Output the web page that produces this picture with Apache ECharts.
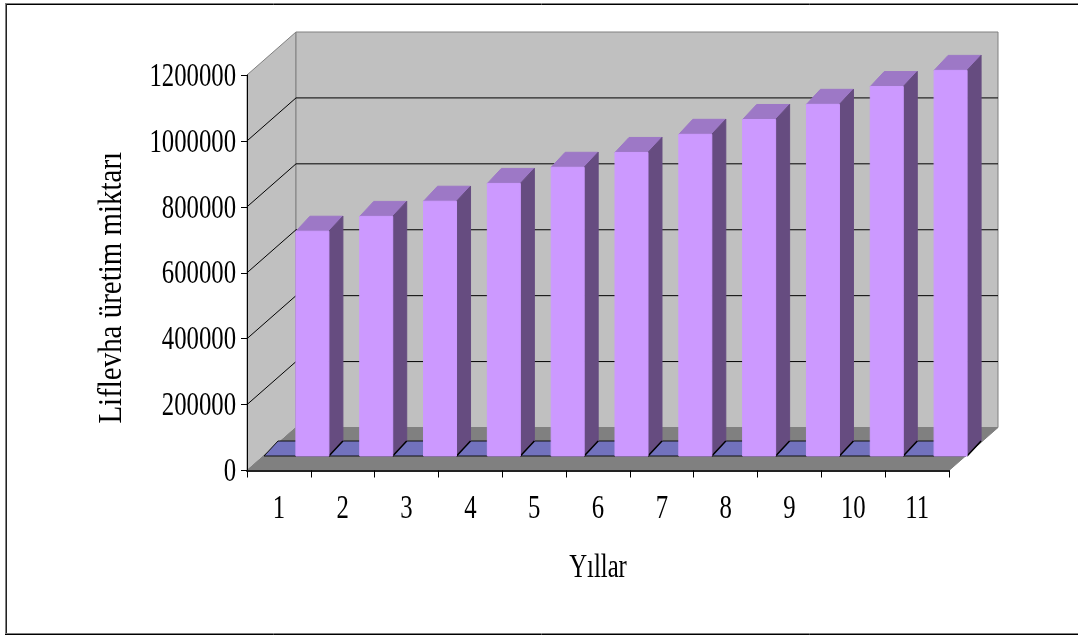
<!DOCTYPE html>
<html>
<head>
<meta charset="utf-8">
<style>html,body{margin:0;padding:0;background:#fff}#c{width:1078px;height:635px}</style>
<script src="https://cdn.jsdelivr.net/npm/echarts@6/dist/echarts.min.js"></script>
</head>
<body>
<div id="c"></div>
<script>
// Fibreboard production per year
const years = ['1','2','3','4','5','6','7','8','9','10','11'];
const production = [682000,727000,773000,827000,876000,921000,976000,1021000,1067000,1121000,1170000];
const yTicks = [0,200000,400000,600000,800000,1000000,1200000];
const gridValues = [200000,400000,600000,800000,1000000];
const yMax = 1200000;
const yStep = 200000;
const xTitle = 'Yıllar';
const yTitle = 'Liflevha üretim miktarı';

// Oblique projection used for the box look (pixels from the front plane)
const wallShift = [49, -43];
const barPlaneShift = [17, -14.5];
const barDepth = [14, -15];

const WALL = '#c0c0c0', FLOOR = '#808080', EDGE = '#808080';
const FRONT = '#cc99ff', TOP = '#9d78c6', SIDE = '#664c80', TILE = '#7272bd';
const FONT = '33px "Liberation Serif","Times New Roman",serif';

const shift = (p, d) => [p[0] + d[0], p[1] + d[1]];
const poly = (points, fill, stroke) => ({
  type: 'polygon',
  shape: { points },
  style: { fill, stroke: stroke || null, lineWidth: stroke ? 1 : 0 }
});
const seg = (a, b, stroke, w) => ({
  type: 'line',
  shape: { x1: a[0], y1: a[1], x2: b[0], y2: b[1] },
  style: { stroke, lineWidth: w || 1 }
});
// Tall, narrow serif lettering: drawn large, then squeezed along the reading direction
const label = (text, x, y, align, squeeze, rotation) => ({
  type: 'text', x, y,
  scaleX: squeeze,
  rotation: rotation || 0,
  style: { text, font: FONT, fill: '#000', align, verticalAlign: 'middle' }
});

// Corner points of the plot's front plane, taken from the axes
function frame(api) {
  const band = api.size([1, 0])[0];
  const first = api.coord([0, 0]);
  const last = api.coord([years.length - 1, 0]);
  const left = first[0] - band / 2, right = last[0] + band / 2;
  return { band, left, right, base: first[1], top: api.coord([0, yMax])[1] };
}

function renderBox(params, api) {
  const f = frame(api);
  const bl = [f.left, f.base], tl = [f.left, f.top], br = [f.right, f.base];
  const bbl = shift(bl, wallShift), btl = shift(tl, wallShift), bbr = shift(br, wallShift);
  const btr = [bbr[0], btl[1]];
  const children = [
    poly([bl, tl, btl, bbl], WALL, EDGE),
    poly([bbl, btl, btr, bbr], WALL, EDGE)
  ];
  gridValues.forEach(v => {
    const y = api.coord([0, v])[1];
    const a = [f.left, y], b = shift(a, wallShift);
    children.push(seg(a, b, '#000'), seg(b, [bbr[0], b[1]], '#000'));
  });
  children.push(poly([bl, bbl, bbr, br], FLOOR, FLOOR));
  return { type: 'group', children };
}

function renderTile(params, api) {
  const band = api.size([1, 0])[0];
  const c = api.coord([api.value(0), 0]);
  const a = shift([c[0] - band / 2, c[1]], barPlaneShift);
  const b = shift([c[0] + band / 2, c[1]], barPlaneShift);
  return poly([a, b, shift(b, barDepth), shift(a, barDepth)], TILE, '#111');
}

function renderBar(params, api) {
  const band = api.size([1, 0])[0];
  const i = api.value(0), v = api.value(1);
  const x0 = api.coord([i, 0])[0] + barPlaneShift[0];
  const x1 = x0 + band * 0.517;
  const yTop = api.coord([i, v])[1] + barPlaneShift[1];
  const yBase = api.coord([i, 0])[1] + barPlaneShift[1];
  const a = [x0, yTop], b = [x1, yTop], c = [x1, yBase], d = [x0, yBase];
  return {
    type: 'group',
    children: [
      poly([a, b, shift(b, barDepth), shift(a, barDepth)], TOP, TOP),
      poly([b, c, shift(c, barDepth), shift(b, barDepth)], SIDE, SIDE),
      seg(c, shift(c, barDepth), '#000', 1.5),
      poly([a, b, c, d], FRONT, FRONT)
    ]
  };
}

function renderText(params, api) {
  const f = frame(api);
  const children = [];
  yTicks.forEach(v => {
    children.push(label(String(v), f.left - 11, api.coord([0, v])[1] + 2, 'right', 0.75));
  });
  years.forEach((y, i) => {
    children.push(label(y, api.coord([i, 0])[0], f.base + 39, 'center', 0.75));
  });
  children.push(label(xTitle, (f.left + f.right) / 2, f.base + 98, 'center', 0.75));
  children.push(label(yTitle, f.left - 135, (f.top + f.base) / 2 + 15, 'center', 0.877, Math.PI / 2));
  return { type: 'group', children };
}

const chart = echarts.init(document.getElementById('c'), null, { renderer: 'canvas' });
chart.setOption({
  animation: false,
  backgroundColor: '#fff',
  // Open-sided frame around the plot: double-toned rules on the top, left and bottom
  graphic: [
    [[5, 3.5], [1078, 3.5], '#808080'], [[5, 4.5], [1078, 4.5], '#000'],
    [[5.5, 4], [5.5, 634], '#808080'], [[6.5, 4], [6.5, 634], '#222'],
    [[5, 633.5], [1078, 633.5], '#808080'], [[5, 634.5], [1078, 634.5], '#000']
  ].map(([a, b, stroke]) => Object.assign(seg(a, b, stroke), { z: 0 })),
  grid: { left: 247, top: 75, width: 702, height: 395.5, containLabel: false },
  xAxis: {
    type: 'category',
    data: years,
    z: 10,
    axisLine: { show: true, lineStyle: { color: '#222', width: 2 } },
    axisTick: { show: true, alignWithLabel: false, length: 7, lineStyle: { color: '#000', width: 1 } },
    axisLabel: { show: false }
  },
  yAxis: {
    type: 'value',
    min: 0,
    max: yMax,
    interval: yStep,
    z: 10,
    axisLine: { show: true, lineStyle: { color: '#000', width: 1 } },
    axisTick: { show: true, length: 6, lineStyle: { color: '#000', width: 1 } },
    axisLabel: { show: false },
    splitLine: { show: false }
  },
  series: [
    { type: 'custom', name: 'box', silent: true, z: 1, clip: false, renderItem: renderBox, data: [[0, 0]] },
    { type: 'custom', name: 'tiles', silent: true, z: 2, clip: false, renderItem: renderTile, data: years.map((y, i) => [i, 0]) },
    { type: 'custom', name: yTitle, z: 3, clip: false, renderItem: renderBar, data: production.map((v, i) => [i, v]) },
    { type: 'custom', name: 'text', silent: true, z: 4, clip: false, renderItem: renderText, data: [[0, 0]] }
  ]
});
</script>
</body>
</html>
